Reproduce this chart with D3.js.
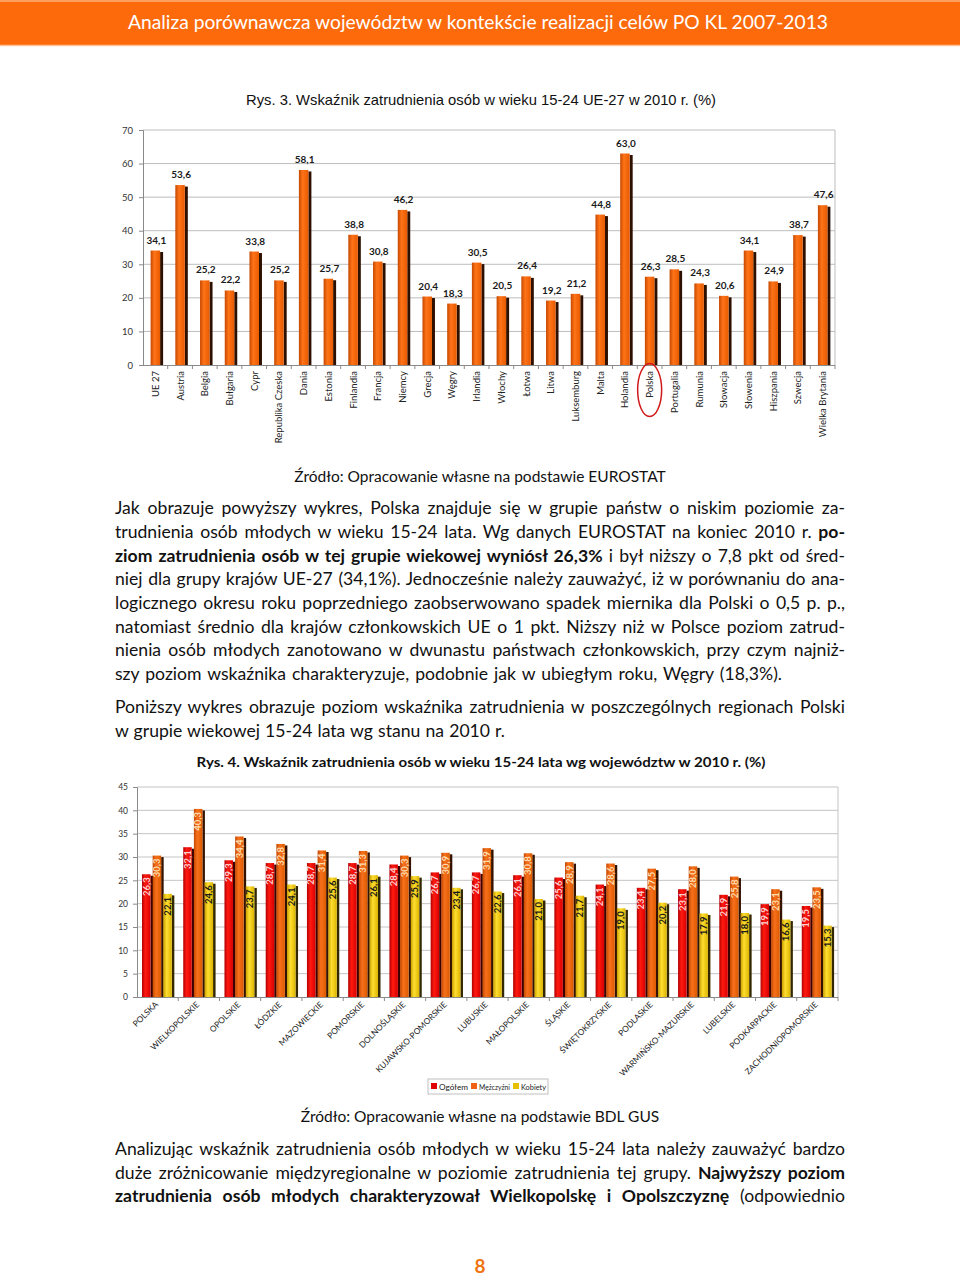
<!DOCTYPE html>
<html><head><meta charset="utf-8">
<script src="https://cdn.jsdelivr.net/npm/d3@7"></script>
<style>body{margin:0;background:#fff} svg{display:block}</style>
</head><body>
<svg id="page" width="960" height="1277"></svg>
<script>
// ---------- DATA ----------
const countries = ["UE 27","Austria","Belgia","Bułgaria","Cypr","Republika Czeska","Dania","Estonia","Finlandia","Francja","Niemcy","Grecja","Węgry","Irlandia","Włochy","Łotwa","Litwa","Luksemburg","Malta","Holandia","Polska","Portugalia","Rumunia","Słowacja","Słowenia","Hiszpania","Szwecja","Wielka Brytania"];
const countryValues = [34.1,53.6,25.2,22.2,33.8,25.2,58.1,25.7,38.8,30.8,46.2,20.4,18.3,30.5,20.5,26.4,19.2,21.2,44.8,63.0,26.3,28.5,24.3,20.6,34.1,24.9,38.7,47.6];
const ticks1 = [0,10,20,30,40,50,60,70];

const regions = ["POLSKA","WIELKOPOLSKIE","OPOLSKIE","ŁÓDZKIE","MAZOWIECKIE","POMORSKIE","DOLNOŚLĄSKIE","KUJAWSKO-POMORSKIE","LUBUSKIE","MAŁOPOLSKIE","ŚLĄSKIE","ŚWIĘTOKRZYSKIE","PODLASKIE","WARMIŃSKO-MAZURSKIE","LUBELSKIE","PODKARPACKIE","ZACHODNIOPOMORSKIE"];
const seriesNames = ["Ogółem","Mężczyźni","Kobiety"];
const ogolem    = [26.3,32.1,29.3,28.7,28.7,28.7,28.4,26.7,26.7,26.1,25.6,24.1,23.4,23.1,21.9,19.9,19.5];
const mezczyzni = [30.3,40.3,34.4,32.8,31.4,31.3,30.3,30.9,31.9,30.8,28.9,28.6,27.5,28.0,25.8,23.1,23.5];
const kobiety   = [22.1,24.6,23.7,24.1,25.6,26.1,25.9,23.4,22.6,21.0,21.7,19.0,20.2,17.9,18.0,16.6,15.3];
const ticks2 = [0,5,10,15,20,25,30,35,40,45];

const fmt = v => v.toFixed(1).replace(".", ",");
const svg = d3.select("#page");
const BODY = "Lato, 'Liberation Sans', sans-serif";

// ---------- gradients ----------
const defs = svg.append("defs");
function grad(id, c0, c1, c2){
  const g = defs.append("linearGradient").attr("id", id).attr("x1","0").attr("x2","1").attr("y1","0").attr("y2","0");
  g.append("stop").attr("offset","0").attr("stop-color", c0);
  g.append("stop").attr("offset","0.4").attr("stop-color", c1);
  g.append("stop").attr("offset","1").attr("stop-color", c2);
}
grad("gOr", "#c64800", "#ff7418", "#e85a00");
grad("gRed", "#b40000", "#ff1a10", "#d80000");
grad("gOr2", "#c44a00", "#f8701c", "#dc5a00");
grad("gYel", "#c8a000", "#ffde30", "#dcb400");

// ---------- header ----------
svg.append("rect").attr("x",0).attr("y",0).attr("width",960).attr("height",46).attr("fill","#fc6a0c");
svg.append("line").attr("x1",0).attr("x2",960).attr("y1",1).attr("y2",1).attr("stroke","#fdb27a").attr("stroke-width",1.5);
svg.append("line").attr("x1",0).attr("x2",960).attr("y1",45.5).attr("y2",45.5).attr("stroke","#fdc49a").attr("stroke-width",1.5);
svg.append("text").attr("x",478).attr("y",29).attr("text-anchor","middle")
  .attr("font-family",BODY).attr("font-size",19.5).attr("fill","#fff")
  .attr("textLength",700).attr("lengthAdjust","spacingAndGlyphs")
  .text("Analiza porównawcza województw w kontekście realizacji celów PO KL 2007-2013");

// ---------- Chart 1 ----------
svg.append("text").attr("x",481).attr("y",105).attr("text-anchor","middle")
  .attr("font-family","'Liberation Sans Narrow', 'Liberation Sans', sans-serif").attr("font-size",15).attr("fill","#111")
  .attr("textLength",470).attr("lengthAdjust","spacingAndGlyphs")
  .text("Rys. 3. Wskaźnik zatrudnienia osób w wieku 15-24 UE-27 w 2010 r. (%)");

const c1 = svg.append("g");
const x1 = d3.scaleBand().domain(countries).range([143,835]).padding(0);
const y1 = d3.scaleLinear().domain([0,70]).range([365,130]);

c1.selectAll("line.grid").data(ticks1.filter(t=>t>0)).join("line")
  .attr("x1",143).attr("x2",835).attr("y1",d=>y1(d)).attr("y2",d=>y1(d))
  .attr("stroke","#bdbdbd").attr("stroke-width",1);
c1.append("line").attr("x1",835).attr("x2",835).attr("y1",y1(70)).attr("y2",y1(0)).attr("stroke","#bdbdbd");
const ya1 = c1.append("g").attr("transform","translate(143,0)")
  .call(d3.axisLeft(y1).tickValues(ticks1).tickSize(4).tickPadding(6).tickFormat(d3.format("d")));
ya1.select(".domain").attr("stroke","#8a8a8a");
ya1.selectAll(".tick line").attr("stroke","#8a8a8a");
ya1.selectAll("text").attr("font-family",BODY).attr("font-size",9.5).attr("fill","#333");
c1.append("line").attr("x1",143).attr("x2",835).attr("y1",365.5).attr("y2",365.5).attr("stroke","#8a8a8a");
c1.selectAll("line.xt").data(countries).join("line")
  .attr("x1",d=>x1(d)+x1.bandwidth()).attr("x2",d=>x1(d)+x1.bandwidth())
  .attr("y1",365).attr("y2",369).attr("stroke","#8a8a8a");

const bw1 = 9.5, sh1 = 3;
const bars1 = c1.selectAll("g.bar").data(countries.map((c,i)=>({c, v:countryValues[i]}))).join("g");
bars1.append("rect")
  .attr("x", d=>x1(d.c)+x1.bandwidth()/2-bw1/2+bw1)
  .attr("y", d=>y1(d.v)+1.5).attr("width", sh1).attr("height", d=>y1(0)-y1(d.v)-1.5)
  .attr("fill","#2e1000");
bars1.append("rect")
  .attr("x", d=>x1(d.c)+x1.bandwidth()/2-bw1/2)
  .attr("y", d=>y1(d.v)).attr("width", bw1).attr("height", d=>y1(0)-y1(d.v))
  .attr("fill","url(#gOr)");
bars1.append("text")
  .attr("x", d=>x1(d.c)+x1.bandwidth()/2+1).attr("y", d=>y1(d.v)-7)
  .attr("text-anchor","middle").attr("font-family",BODY).attr("font-weight","bold")
  .attr("font-size",10).attr("fill","#1a1a1a").text(d=>fmt(d.v));
c1.selectAll("text.xl").data(countries).join("text")
  .attr("transform", d=>`translate(${x1(d)+x1.bandwidth()/2+3.5},371) rotate(-90)`)
  .attr("text-anchor","end").attr("font-family",BODY).attr("font-size",9.5).attr("fill","#222")
  .text(d=>d);
c1.append("ellipse").attr("cx", x1("Polska")+x1.bandwidth()/2).attr("cy",390).attr("rx",12).attr("ry",26.5)
  .attr("fill","none").attr("stroke","#d01818").attr("stroke-width",1.5);

// ---------- text helper ----------
function para(lines){
  lines.forEach(L=>{
    const t = svg.append("text").attr("x",L.x).attr("y",L.y)
      .attr("font-family",BODY).attr("font-size",L.size||17.6).attr("fill","#111");
    if (L.anchor) t.attr("text-anchor",L.anchor);
    L.segs.forEach(s=>{
      t.append("tspan").attr("font-weight", s[1]?"bold":"normal").text(s[0]);
    });
    if (L.w){
      const n = t.node();
      const w = n.getComputedTextLength();
      const spaces = (n.textContent.match(/ /g)||[]).length;
      if (spaces) t.attr("word-spacing", (L.w - w)/spaces);
    }
  });
}
const N = s=>[s,false], B = s=>[s,true];
const LX = 115, FULL = 730;

para([{x:480, y:482, anchor:"middle", size:15.5, segs:[N("Źródło: Opracowanie własne na podstawie EUROSTAT")]}]);
para([
  {x:LX,y:514,w:FULL,segs:[N("Jak obrazuje powyższy wykres, Polska znajduje się w grupie państw o niskim poziomie za-")]},
  {x:LX,y:538,w:FULL,segs:[N("trudnienia osób młodych w wieku 15-24 lata. Wg danych EUROSTAT na koniec 2010 r. "),B("po-")]},
  {x:LX,y:562,w:FULL,segs:[B("ziom zatrudnienia osób w tej grupie wiekowej wyniósł 26,3%"),N(" i był niższy o 7,8 pkt od śred-")]},
  {x:LX,y:585,w:FULL,segs:[N("niej dla grupy krajów UE-27 (34,1%). Jednocześnie należy zauważyć, iż w porównaniu do ana-")]},
  {x:LX,y:609,w:FULL,segs:[N("logicznego okresu roku poprzedniego zaobserwowano spadek miernika dla Polski o 0,5 p. p.,")]},
  {x:LX,y:633,w:FULL,segs:[N("natomiast średnio dla krajów członkowskich UE o 1 pkt. Niższy niż w Polsce poziom zatrud-")]},
  {x:LX,y:656,w:FULL,segs:[N("nienia osób młodych zanotowano w dwunastu państwach członkowskich, przy czym najniż-")]},
  {x:LX,y:680,w:667,segs:[N("szy poziom wskaźnika charakteryzuje, podobnie jak w ubiegłym roku, Węgry (18,3%).")]},
  {x:LX,y:713,w:FULL,segs:[N("Poniższy wykres obrazuje poziom wskaźnika zatrudnienia w poszczególnych regionach Polski")]},
  {x:LX,y:737,w:390,segs:[N("w grupie wiekowej 15-24 lata wg stanu na 2010 r.")]}
]);

// ---------- Chart 2 ----------
svg.append("text").attr("x",481).attr("y",767).attr("text-anchor","middle")
  .attr("font-family",BODY).attr("font-weight","bold").attr("font-size",14).attr("fill","#111")
  .attr("textLength",569).attr("lengthAdjust","spacingAndGlyphs")
  .text("Rys. 4. Wskaźnik zatrudnienia osób w wieku 15-24 lata wg województw w 2010 r. (%)");

const c2 = svg.append("g");
const x2 = d3.scaleBand().domain(regions).range([137,838]).padding(0);
const xs = d3.scaleBand().domain(seriesNames).range([5, 37]).padding(0);
const y2 = d3.scaleLinear().domain([0,45]).range([997,787]);

c2.selectAll("line.grid").data(ticks2.filter(t=>t>0)).join("line")
  .attr("x1",137).attr("x2",838).attr("y1",d=>y2(d)).attr("y2",d=>y2(d))
  .attr("stroke","#c4c4c4");
c2.append("line").attr("x1",838).attr("x2",838).attr("y1",y2(45)).attr("y2",y2(0)).attr("stroke","#c4c4c4");
const ya2 = c2.append("g").attr("transform","translate(137,0)")
  .call(d3.axisLeft(y2).tickValues(ticks2).tickSize(4).tickPadding(5).tickFormat(d3.format("d")));
ya2.select(".domain").attr("stroke","#8a8a8a");
ya2.selectAll(".tick line").attr("stroke","#8a8a8a");
ya2.selectAll("text").attr("font-family",BODY).attr("font-size",8.5).attr("fill","#333");
c2.append("line").attr("x1",137).attr("x2",838).attr("y1",997.5).attr("y2",997.5).attr("stroke","#8a8a8a");
c2.selectAll("line.xt").data(regions).join("line")
  .attr("x1",d=>x2(d)+x2.bandwidth()).attr("x2",d=>x2(d)+x2.bandwidth())
  .attr("y1",997).attr("y2",1001).attr("stroke","#8a8a8a");

const seriesData = [ogolem, mezczyzni, kobiety];
const fills = ["url(#gRed)","url(#gOr2)","url(#gYel)"];
const shades = ["#3c0000","#341200","#332800"];
const labCols = ["#ffd0d0","#ffdcae","#1a1a1a"];
const legendCols = ["#e00000","#f06010","#e8c000"];
const bw2 = 8.5, sh2 = 2.5;
const flat = [];
regions.forEach((r,i)=>seriesNames.forEach((s,j)=>flat.push({r, s, j, v:seriesData[j][i]})));
const bars2 = c2.selectAll("g.bar").data(flat).join("g");
bars2.append("rect")
  .attr("x", d=>x2(d.r)+xs(d.s)+bw2).attr("y", d=>y2(d.v)+1.5)
  .attr("width", sh2).attr("height", d=>y2(0)-y2(d.v)-1.5).attr("fill", d=>shades[d.j]);
bars2.append("rect")
  .attr("x", d=>x2(d.r)+xs(d.s)).attr("y", d=>y2(d.v))
  .attr("width", bw2).attr("height", d=>y2(0)-y2(d.v)).attr("fill", d=>fills[d.j]);
bars2.append("text")
  .attr("transform", d=>`translate(${x2(d.r)+xs(d.s)+bw2/2+3.3},${y2(d.v)+3}) rotate(-90)`)
  .attr("text-anchor","end").attr("font-family",BODY).attr("font-weight","bold")
  .attr("font-size",9.5).attr("fill", d=>labCols[d.j]).text(d=>fmt(d.v));

c2.selectAll("text.xl").data(regions).join("text")
  .attr("transform", d=>`translate(${x2(d)+x2.bandwidth()/2+1},1005) rotate(-45)`)
  .attr("text-anchor","end").attr("font-family",BODY).attr("font-size",8.3).attr("fill","#222")
  .text(d=>d);

// legend
const lg = c2.append("g");
lg.append("rect").attr("x",428).attr("y",1079).attr("width",120).attr("height",15)
  .attr("fill","#fff").attr("stroke","#c0c0c0");
const lgX = [431, 471, 513];
const lgW = [29, 31, 25];
seriesNames.forEach((s,j)=>{
  lg.append("rect").attr("x",lgX[j]).attr("y",1083).attr("width",6).attr("height",6).attr("fill",legendCols[j]);
  lg.append("text").attr("x",lgX[j]+8).attr("y",1089.5).attr("font-family",BODY).attr("font-size",7.5)
    .attr("fill","#222").attr("textLength",lgW[j]).attr("lengthAdjust","spacingAndGlyphs").text(s);
});

para([{x:480, y:1122, anchor:"middle", size:15.5, segs:[N("Źródło: Opracowanie własne na podstawie BDL GUS")]}]);
para([
  {x:LX,y:1155,w:FULL,segs:[N("Analizując wskaźnik zatrudnienia osób młodych w wieku 15-24 lata należy zauważyć bardzo")]},
  {x:LX,y:1179,w:FULL,segs:[N("duże zróżnicowanie międzyregionalne w poziomie zatrudnienia tej grupy. "),B("Najwyższy poziom")]},
  {x:LX,y:1202,w:FULL,segs:[B("zatrudnienia osób młodych charakteryzował Wielkopolskę i Opolszczyznę"),N(" (odpowiednio")]}
]);

svg.append("text").attr("x",480).attr("y",1273).attr("text-anchor","middle")
  .attr("font-family",BODY).attr("font-weight","bold").attr("font-size",19).attr("fill","#ee7414").text("8");
</script>
</body></html>
